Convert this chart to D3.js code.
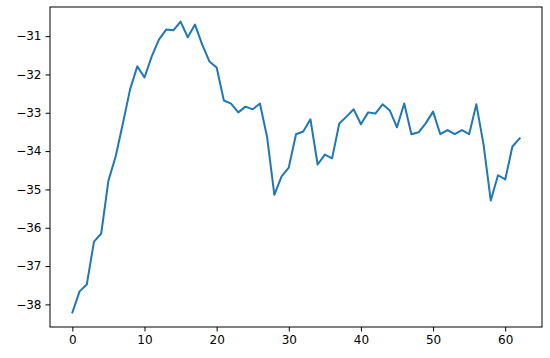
<!DOCTYPE html>
<html>

<head>
  <meta charset="UTF-8">
  <title>Line chart</title>
  <style>
    body {
      margin: 0;
      background: #fff;
    }

    .line {
      fill: none;
      stroke: #1f77b4;
      stroke-width: 2px;
      stroke-linejoin: round;
      stroke-linecap: square;
    }

    .axis text {
      font-family: "DejaVu Sans", sans-serif;
      font-size: 12px;
      fill: #000;
    }

    .axis line {
      stroke: #000;
    }
  </style>
</head>

<body>
  <svg width="550" height="358" id="chart"></svg>
  <script src="https://d3js.org/d3.v7.min.js"></script>

  <script>
    // values, index 0..62
    var steps = d3.range(0, 63);
    var values = [
      -38.21, -37.66, -37.48, -36.36, -36.15, -34.77, -34.14, -33.28, -32.39, -31.79,
      -32.08, -31.53, -31.09, -30.83, -30.85, -30.62, -31.03, -30.70, -31.22, -31.66,
      -31.82, -32.68, -32.76, -32.99, -32.84, -32.91, -32.76, -33.64, -35.14, -34.66,
      -34.43, -33.56, -33.49, -33.17, -34.35, -34.09, -34.19, -33.28, -33.10, -32.91,
      -33.30, -32.99, -33.02, -32.78, -32.94, -33.38, -32.76, -33.56, -33.51, -33.27,
      -32.97, -33.56, -33.45, -33.56, -33.45, -33.56, -32.78, -33.83, -35.29, -34.63,
      -34.74, -33.88, -33.67
    ];
    var xTicks = [0, 10, 20, 30, 40, 50, 60];
    var yTicks = [-38, -37, -36, -35, -34, -33, -32, -31];

    var svg = d3.select("#chart"),
      margin = { top: 7, right: 8, bottom: 31, left: 50 },
      width = +svg.attr("width") - margin.left - margin.right,
      height = +svg.attr("height") - margin.top - margin.bottom;

    var g = svg.append("g").attr("transform", "translate(" + margin.left + "," + margin.top + ")");

    // matplotlib style 5% margins
    var xr = d3.extent(steps), yr = d3.extent(values);
    var xm = (xr[1] - xr[0]) * 0.05, ym = (yr[1] - yr[0]) * 0.05;

    var x = d3.scaleLinear().domain([xr[0] - xm, xr[1] + xm]).range([0, width]),
      y = d3.scaleLinear().domain([yr[0] - ym, yr[1] + ym]).range([height, 0]);

    var fmt = function (d) { return String(d).replace("-", "\u2212"); };

    var line = d3.line()
      .x(function (d, i) { return x(steps[i]); })
      .y(function (d) { return y(d); });

    g.append("path")
      .datum(values)
      .attr("class", "line")
      .attr("d", line);

    var xAxis = g.append("g")
      .attr("class", "axis")
      .attr("transform", "translate(0," + height + ")")
      .call(d3.axisBottom(x).tickValues(xTicks).tickSize(4.5).tickPadding(4).tickFormat(fmt));

    var yAxis = g.append("g")
      .attr("class", "axis")
      .call(d3.axisLeft(y).tickValues(yTicks).tickSize(4.5).tickPadding(4).tickFormat(fmt));

    xAxis.select(".domain").remove();
    yAxis.select(".domain").remove();

    // frame
    g.append("rect")
      .attr("x", 0)
      .attr("y", 0)
      .attr("width", width)
      .attr("height", height)
      .attr("fill", "none")
      .attr("stroke", "#000")
      .attr("stroke-width", 1);
  </script>
</body>

</html>
